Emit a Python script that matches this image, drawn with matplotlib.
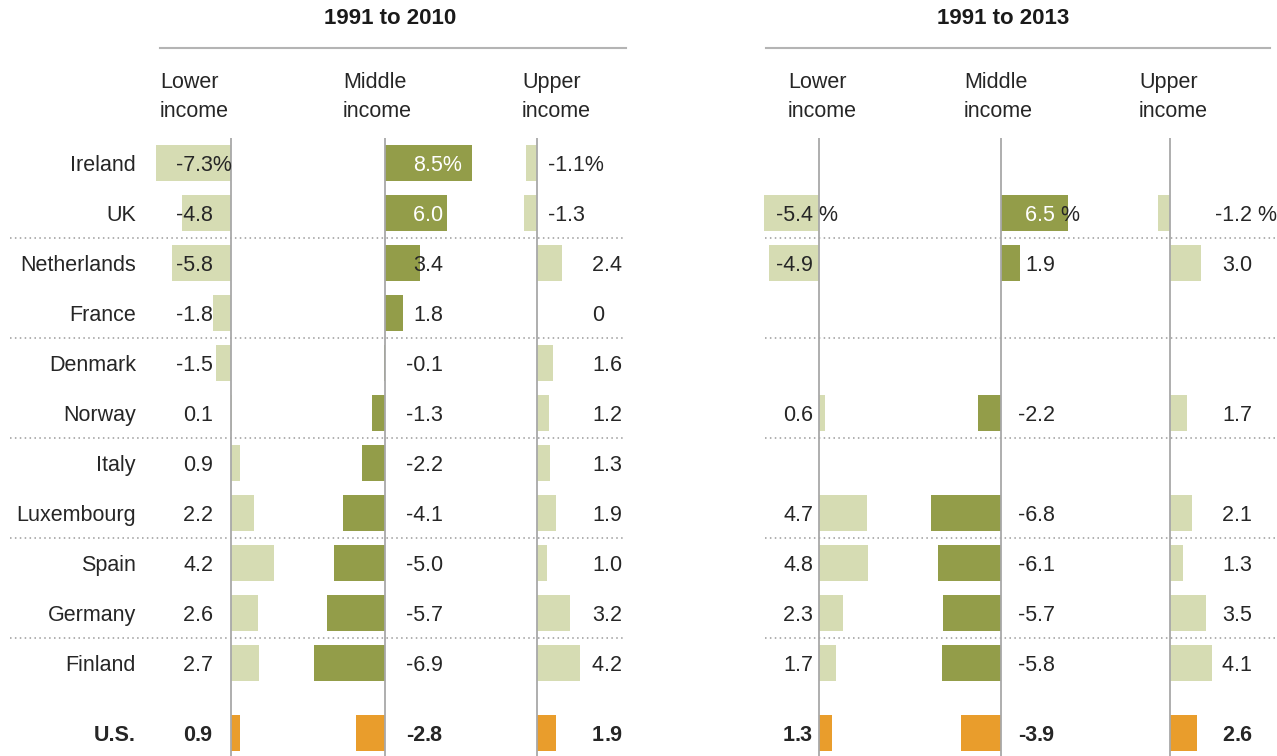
import matplotlib.pyplot as plt
from matplotlib import transforms
from matplotlib.lines import Line2D

# change in share of adults by income tier, percentage points
countries = ['Ireland', 'UK', 'Netherlands', 'France', 'Denmark', 'Norway',
             'Italy', 'Luxembourg', 'Spain', 'Germany', 'Finland', 'U.S.']
lower_2010 = [-7.3, -4.8, -5.8, -1.8, -1.5, 0.1, 0.9, 2.2, 4.2, 2.6, 2.7, 0.9]
middle_2010 = [8.5, 6.0, 3.4, 1.8, -0.1, -1.3, -2.2, -4.1, -5.0, -5.7, -6.9, -2.8]
upper_2010 = [-1.1, -1.3, 2.4, 0, 1.6, 1.2, 1.3, 1.9, 1.0, 3.2, 4.2, 1.9]
lower_2013 = [None, -5.4, -4.9, None, None, 0.6, None, 4.7, 4.8, 2.3, 1.7, 1.3]
middle_2013 = [None, 6.5, 1.9, None, None, -2.2, None, -6.8, -6.1, -5.7, -5.8, -3.9]
upper_2013 = [None, -1.2, 3.0, None, None, 1.7, None, 2.1, 1.3, 3.5, 4.1, 2.6]

W, H = 1277, 756
PX = 10.25            # pixels per point of change
Y_TOP, Y_BOT = 138, 756
ROW0, ROWH = 162.5, 50
ypos = list(range(11)) + [11.4]

LIGHT = '#d6dcb3'
DARK = '#939d49'
US_C = '#e99d2c'
TXT = '#262626'
GRID = '#a8a8a8'
FS = 15.5
DY = -3   # nudge text down a little so it sits on the bar centre

plt.rcParams['font.family'] = ['Liberation Sans', 'DejaVu Sans']
fig = plt.figure(figsize=(W / 100, H / 100), dpi=100)


def fx(x):
    return x / W


def fy(y):
    return 1 - y / H


def column(zero, vals, color, off_pos, off_neg, pct_gap):
    half = 12 * PX
    ax = fig.add_axes([(zero - half) / W, 0, 2 * half / W, (H - Y_TOP) / H])
    ax.set_xlim(-12, 12)
    ax.set_ylim((Y_BOT - ROW0) / ROWH, (Y_TOP - ROW0) / ROWH)
    ax.axis('off')
    ax.axvline(0, color=GRID, lw=1.3, zorder=3)
    first = True
    for i, (y, v) in enumerate(zip(ypos, vals)):
        if v is None:
            continue
        us = i == len(vals) - 1
        ax.barh(y, v, height=0.72, color=US_C if us else color, zorder=2)
        if v == 0:
            whole, frac = '0', ''
        else:
            whole, frac = f'{v:.1f}'.split('.')
        c = 'white' if (color == DARK and v > 5 and not us) else TXT
        kw = dict(textcoords='offset pixels', va='center', fontsize=FS, color=c,
                  fontweight='bold' if us else 'normal', zorder=4)
        off = off_pos if v >= 0 else off_neg
        ax.annotate(whole, xy=(0, y), xytext=(off, DY), ha='right', **kw)
        if frac:
            s = '.' + frac + ('%' if first and pct_gap == 0 else '')
            t = ax.annotate(s, xy=(0, y), xytext=(off, DY), ha='left', **kw)
            if first and pct_gap:
                ax.annotate('%', xy=(1, 0.5), xycoords=t, xytext=(pct_gap, 0),
                            textcoords='offset pixels', ha='left', va='center',
                            fontsize=FS, color=TXT)
        first = False
    return ax


panels = [
    dict(title='1991 to 2010', tx=390, line=(160, 626), dots=(10, 625), gap=0,
         cols=[(231, lower_2010, LIGHT, -36, -36, 160),
               (385, middle_2010, DARK, 40, 40, 343),
               (537, upper_2010, LIGHT, 67, 30, 522)]),
    dict(title='1991 to 2013', tx=1003, line=(766, 1270), dots=(765, 1277), gap=5,
         cols=[(819, lower_2013, LIGHT, -24, -24, 788),
               (1001, middle_2013, DARK, 36, 36, 964),
               (1170, upper_2013, LIGHT, 64, 64, 1139)]),
]

names = ['Lower\nincome', 'Middle\nincome', 'Upper\nincome']
for p in panels:
    fig.text(fx(p['tx']), fy(19), p['title'], ha='center', va='center',
             fontsize=FS + 0.5, fontweight='bold', color='#1a1a1a')
    fig.add_artist(Line2D([fx(p['line'][0]), fx(p['line'][1])], [fy(48), fy(48)],
                          color='#b4b4b4', lw=1.5))
    axes = []
    for (zero, vals, color, op, on, hx), name in zip(p['cols'], names):
        axes.append(column(zero, vals, color, op, on, p['gap']))
        fig.text(fx(hx), fy(97), name, ha='left', va='center', fontsize=FS,
                 color=TXT, linespacing=1.5)
    blend = transforms.blended_transform_factory(fig.transFigure, axes[0].transData)
    for sep in [1.5, 3.5, 5.5, 7.5, 9.5]:
        axes[0].plot([fx(p['dots'][0]), fx(p['dots'][1])], [sep, sep], transform=blend,
                     clip_on=False, color='#9a9a9a', lw=1.1, ls=(0, (1, 2.2)), zorder=1)

blend = transforms.blended_transform_factory(fig.transFigure, axes[0].transData)
shift = transforms.ScaledTranslation(0, DY / 100, fig.dpi_scale_trans)
for name, y in zip(countries, ypos):
    axes[0].text(fx(136), y, name, transform=blend + shift, ha='right', va='center',
                 fontsize=FS, color=TXT, fontweight='bold' if name == 'U.S.' else 'normal')

fig.savefig('out.png', dpi=100)
